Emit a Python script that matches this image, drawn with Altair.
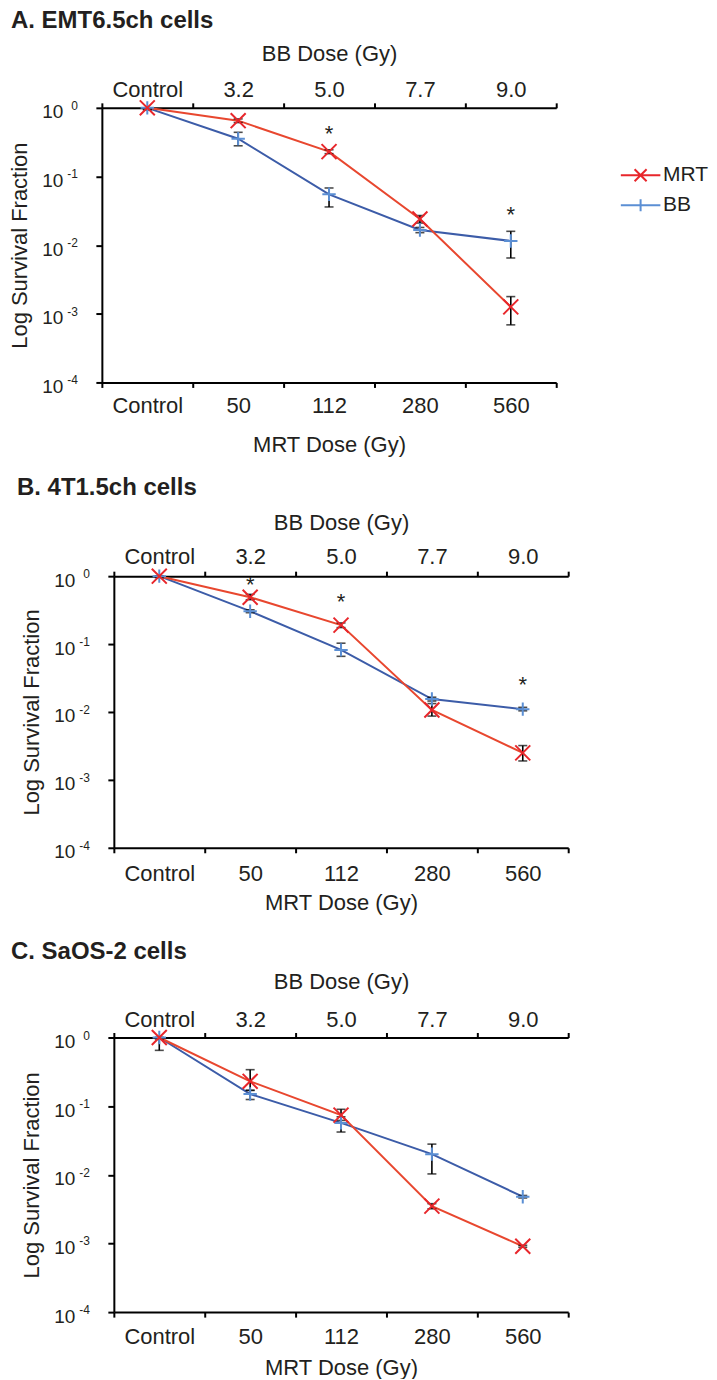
import json
import altair as alt
import pandas as pd

FONT = "Liberation Sans"
INK = "#231f20"
RED_LINE = "#e8472f"
RED_MARK = "#e8262b"
BLUE_LINE = "#3c5ca8"
BLUE_MARK = "#5b8fd4"

# ---------------- data ----------------
mrt_doses = ["Control", "50", "112", "280", "560"]
bb_doses = ["Control", "3.2", "5.0", "7.7", "9.0"]
series_names = ["MRT", "BB"]
y_ticks = [1, 0.1, 0.01, 0.001, 0.0001]
y_exponents = ["0", "-1", "-2", "-3", "-4"]

# Panel A  (EMT6.5ch)
a_mrt = [1.0, 0.65, 0.23, 0.024, 0.00126]
a_mrt_lo = [0.93, 0.61, 0.215, 0.021, 0.00069]
a_mrt_hi = [1.0, 0.69, 0.245, 0.027, 0.00178]
a_bb = [1.0, 0.355, 0.055, 0.0166, 0.0115]
a_bb_lo = [0.96, 0.28, 0.036, 0.0152, 0.0065]
a_bb_hi = [1.0, 0.44, 0.068, 0.0181, 0.0159]
a_star_dose = ["112", "560"]
a_star_y = [0.43, 0.028]

# Panel B  (4T1.5ch)
b_mrt = [1.0, 0.49, 0.19, 0.0107, 0.0025]
b_mrt_lo = [0.95, 0.45, 0.175, 0.0087, 0.0019]
b_mrt_hi = [1.0, 0.54, 0.205, 0.0133, 0.0032]
b_bb = [1.0, 0.305, 0.082, 0.0155, 0.011]
b_bb_lo = [0.97, 0.29, 0.066, 0.0145, 0.0104]
b_bb_hi = [1.0, 0.32, 0.103, 0.0165, 0.0117]
b_star_dose = ["50", "112", "560"]
b_star_y = [0.76, 0.436, 0.0258]

# Panel C  (SaOS-2)
c_mrt = [1.0, 0.23, 0.074, 0.0035, 0.00091]
c_mrt_lo = [0.95, 0.17, 0.062, 0.0032, 0.00088]
c_mrt_hi = [1.0, 0.34, 0.09, 0.0038, 0.00094]
c_bb = [1.0, 0.15, 0.057, 0.02, 0.0048]
c_bb_lo = [0.65, 0.125, 0.042, 0.0103, 0.0046]
c_bb_hi = [1.0, 0.17, 0.07, 0.028, 0.005]
c_star_dose = []
c_star_y = []

CROSS = "M-1,-1L1,1M-1,1L1,-1"
PLUS = "M-1,0L1,0M0,-1L0,1"
CROSS_LEG = "M-3.3,0L3.3,0M-1,-1L1,1M-1,1L1,-1"
PLUS_LEG = "M-3.3,0L3.3,0M0,-1L0,1"

W = 455
LABEL_FS = 22
top_label_expr = "%s[indexof(%s, datum.value)]" % (json.dumps(bb_doses), json.dumps(mrt_doses))


def build(title, mrt, mrt_lo, mrt_hi, bb, bb_lo, bb_hi, star_dose, star_y,
          h, shift, title_dx, title_offset, top_pad, top_tpad, bot_pad, bot_tpad,
          legend=False):
    rows = []
    for name, v, lo, hi in (("MRT", mrt, mrt_lo, mrt_hi), ("BB", bb, bb_lo, bb_hi)):
        for i, d in enumerate(mrt_doses):
            rows.append({"dose": d, "series": name, "value": v[i], "lo": lo[i], "hi": hi[i]})
    df = pd.DataFrame(rows)
    stars = pd.DataFrame({"dose": star_dose, "y": star_y})
    expo = pd.DataFrame({"tick": y_ticks, "exp": y_exponents})

    xs = alt.Scale(type="band", domain=mrt_doses, range=[shift, shift + W],
                   paddingInner=0, paddingOuter=0)
    ys = alt.Scale(type="log", domain=[1e-4, 1])

    y_axis = alt.Axis(title="Log Survival Fraction", values=y_ticks, labelExpr="'10'",
                      offset=-shift, labelPadding=33, labelOffset=4, titlePadding=10,
                      labelFontSize=19, tickSize=6)

    def X(axis=None):
        return alt.X("dose:N", scale=xs, sort=mrt_doses, axis=axis)

    def Y(field):
        return alt.Y(field, scale=ys, axis=y_axis)

    bottom_axis = alt.Axis(orient="bottom", title="MRT Dose (Gy)", tickBand="extent",
                           labelAngle=0, labelPadding=bot_pad, titlePadding=bot_tpad)
    top_axis = alt.Axis(orient="top", title="BB Dose (Gy)", tickBand="extent",
                        labelAngle=0, labelPadding=top_pad, titlePadding=top_tpad,
                        labelExpr=top_label_expr)

    base = alt.Chart(df)
    line_bb = base.transform_filter(alt.datum.series == "BB").mark_line(
        color=BLUE_LINE, strokeWidth=2).encode(x=X(bottom_axis), y=Y("value:Q"))
    line_mrt = base.transform_filter(alt.datum.series == "MRT").mark_line(
        color=RED_LINE, strokeWidth=2).encode(x=X(top_axis), y=Y("value:Q"))
    err = base.mark_rule(color="black", strokeWidth=1.6).encode(
        x=X(), y=Y("lo:Q"), y2="hi:Q")
    cap_lo = base.mark_tick(color="black", size=9, thickness=1.6).encode(
        x=X(), y=Y("lo:Q"))
    cap_hi = base.mark_tick(color="black", size=9, thickness=1.6).encode(
        x=X(), y=Y("hi:Q"))
    pts_bb = base.transform_filter(alt.datum.series == "BB").mark_point(
        shape=PLUS, filled=False, size=180, strokeWidth=2, color=BLUE_MARK, opacity=1).encode(
        x=X(), y=Y("value:Q"))
    pts_mrt = base.transform_filter(alt.datum.series == "MRT").mark_point(
        shape=CROSS, filled=False, size=225, strokeWidth=2, color=RED_MARK, opacity=1).encode(
        x=X(), y=Y("value:Q"))
    exps = alt.Chart(expo).mark_text(align="right", baseline="middle", fontSize=12,
                                     font=FONT, color=INK, dy=-2).encode(
        x=alt.value(shift - 24), y=Y("tick:Q"), text="exp:N")

    layers = [line_bb, line_mrt, err, cap_lo, cap_hi, pts_bb, pts_mrt, exps]
    if len(star_dose):
        star = alt.Chart(stars).mark_text(text="*", fontSize=22, font=FONT, color=INK,
                                          baseline="middle", dy=1).encode(
            x=X(), y=Y("y:Q"))
        layers.append(star)
    if legend:
        leg = alt.Legend(title=None, orient="none", legendX=529, legendY=57,
                         labelFont=FONT, labelFontSize=21, labelColor=INK,
                         symbolSize=144, symbolStrokeWidth=2, symbolOpacity=1,
                         labelOffset=12, rowPadding=8)
        leg_layer = base.mark_point(opacity=0, filled=False, size=144, strokeWidth=2).encode(
            x=X(), y=Y("value:Q"),
            color=alt.Color("series:N", scale=alt.Scale(domain=series_names,
                                                        range=[RED_MARK, BLUE_MARK]),
                            legend=leg),
            shape=alt.Shape("series:N", scale=alt.Scale(domain=series_names,
                                                        range=[CROSS_LEG, PLUS_LEG]),
                            legend=leg))
        layers.append(leg_layer)

    return alt.layer(*layers).resolve_axis(x="independent").properties(
        width=W + shift, height=h,
        title=alt.TitleParams(title, anchor="start", frame="group", dx=title_dx,
                              offset=title_offset, fontSize=24, fontWeight="bold",
                              font=FONT, color=INK))


SHIFT = 12
pA = build("A. EMT6.5ch cells", a_mrt, a_mrt_lo, a_mrt_hi, a_bb, a_bb_lo, a_bb_hi,
           a_star_dose, a_star_y, h=275, shift=0, title_dx=-91, title_offset=10,
           top_pad=1, top_tpad=13, bot_pad=8, bot_tpad=18, legend=True)
pB = build("B. 4T1.5ch cells", b_mrt, b_mrt_lo, b_mrt_hi, b_bb, b_bb_lo, b_bb_hi,
           b_star_dose, b_star_y, h=272, shift=SHIFT, title_dx=-85, title_offset=11,
           top_pad=3, top_tpad=11, bot_pad=11, bot_tpad=8)
pC = build("C. SaOS-2 cells", c_mrt, c_mrt_lo, c_mrt_hi, c_bb, c_bb_lo, c_bb_hi,
           c_star_dose, c_star_y, h=275, shift=SHIFT, title_dx=-91, title_offset=7,
           top_pad=1, top_tpad=15, bot_pad=9, bot_tpad=10)

chart = alt.vconcat(alt.vconcat(pA, pB, spacing=21), pC, spacing=26).properties(
    padding={"left": 0, "top": 0, "right": 0, "bottom": 0}
).configure(font=FONT).configure_view(stroke=None).configure_axis(
    labelFont=FONT, titleFont=FONT, labelFontSize=LABEL_FS, titleFontSize=LABEL_FS,
    titleFontWeight="normal", labelColor=INK, titleColor=INK,
    domainColor="black", tickColor="black", domainWidth=2, tickWidth=2,
    tickSize=5, grid=False)

chart.save("out.html", embed_options={"renderer": "svg", "actions": False})
